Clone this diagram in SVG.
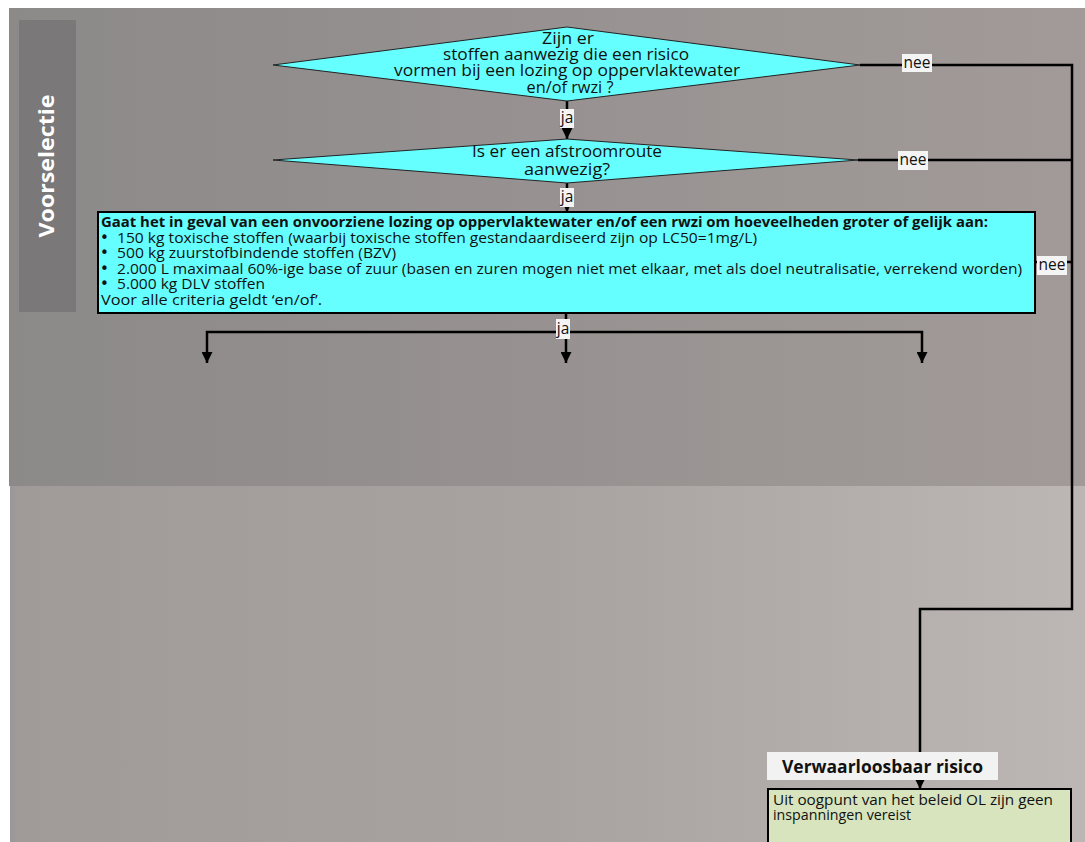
<svg xmlns="http://www.w3.org/2000/svg" width="1085" height="842" viewBox="0 0 1085 842">
<defs>
<linearGradient id="bgTop" x1="0" y1="0" x2="1" y2="0">
<stop offset="0" stop-color="#8c8989"/>
<stop offset="0.5" stop-color="#979291"/>
<stop offset="1" stop-color="#a19a99"/>
</linearGradient>
<linearGradient id="bgBot" x1="0" y1="0" x2="1" y2="0">
<stop offset="0" stop-color="#a09a99"/>
<stop offset="0.5" stop-color="#a8a2a1"/>
<stop offset="1" stop-color="#bcb7b4"/>
</linearGradient>
<marker id="arr" viewBox="0 0 10 10" refX="10" refY="5" markerWidth="4.4" markerHeight="4.4" orient="auto" markerUnits="strokeWidth">
<path d="M0,0 L10,5 L0,10 z" fill="#000"/>
</marker>
</defs>
<style>
.dia{fill:#66ffff;stroke:#222;stroke-width:1}
.t{font-family:"Open Sans","Liberation Sans",sans-serif;font-size:14.5px;fill:#111}
.dt{font-family:"Open Sans","Liberation Sans",sans-serif;font-size:16px;fill:#111;text-anchor:middle}
.b{font-weight:bold}
.bul{font-family:"DejaVu Sans",sans-serif;font-size:15px}
.con{fill:none;stroke:#000;stroke-width:2.5}
.lbl{fill:#f4f4f4}
.lt{font-family:"Open Sans","Liberation Sans",sans-serif;font-size:15.5px;fill:#111;text-anchor:middle}
</style>
<rect x="0" y="0" width="1085" height="842" fill="#ffffff"/>
<rect x="9" y="8" width="1076" height="478" fill="url(#bgTop)"/>
<rect x="10" y="486" width="1075" height="356" fill="url(#bgBot)"/>
<rect x="10" y="486" width="5" height="356" fill="#9a9898"/>

<g id="lane">
<rect x="19" y="20" width="57" height="292" fill="#7a7878"/>
<text transform="translate(54,166) rotate(-90)" text-anchor="middle" font-family="Open Sans, Liberation Sans, sans-serif" font-size="22" font-weight="bold" fill="#ffffff" textLength="143" lengthAdjust="spacingAndGlyphs">Voorselectie</text>
</g>

<g id="connectors">
<line class="con" x1="567" y1="101" x2="567" y2="139" marker-end="url(#arr)"/>
<line class="con" x1="567" y1="183" x2="567" y2="212" marker-end="url(#arr)"/>
<line class="con" x1="566" y1="313" x2="566" y2="363" marker-end="url(#arr)"/>
<polyline class="con" points="566,332 207,332 207,363" marker-end="url(#arr)"/>
<polyline class="con" points="566,332 922,332 922,363" marker-end="url(#arr)"/>
<polyline class="con" points="860,65 1072,65 1072,609 920,609 920,789" marker-end="url(#arr)"/>
<line class="con" x1="858" y1="160" x2="1072" y2="160"/>
<line class="con" x1="1035" y1="262" x2="1072" y2="262"/>
<rect class="lbl" x="560" y="109" width="14" height="19"/>
<text class="lt" x="567" y="123">ja</text>
<rect class="lbl" x="560" y="188" width="14" height="19"/>
<text class="lt" x="567" y="202">ja</text>
<rect class="lbl" x="556" y="319" width="14" height="20"/>
<text class="lt" x="563" y="334">ja</text>
<rect class="lbl" x="902" y="54" width="30" height="18"/>
<text class="lt" x="917" y="68">nee</text>
<rect class="lbl" x="898" y="151" width="30" height="19"/>
<text class="lt" x="913" y="165">nee</text>
<rect class="lbl" x="1037" y="256" width="30" height="19"/>
<text class="lt" x="1052" y="270">nee</text>
</g>

<g id="q1">
<polygon class="dia" points="567,27 860,65 567,101 273,65"/>
<text class="dt" x="568" y="44" textLength="52" lengthAdjust="spacingAndGlyphs">Zijn er</text>
<text class="dt" x="566" y="60" textLength="246" lengthAdjust="spacingAndGlyphs">stoffen aanwezig die een risico</text>
<text class="dt" x="567" y="76" textLength="346" lengthAdjust="spacingAndGlyphs">vormen bij een lozing op oppervlaktewater</text>
<text class="dt" x="570" y="93" textLength="87" lengthAdjust="spacingAndGlyphs">en/of rwzi ?</text>
</g>

<g id="q2">
<polygon class="dia" points="567,139 858,160 567,183 273,160"/>
<text class="dt" x="567" y="157" textLength="190" lengthAdjust="spacingAndGlyphs">Is er een afstroomroute</text>
<text class="dt" x="567" y="175" textLength="86" lengthAdjust="spacingAndGlyphs">aanwezig?</text>
</g>

<g id="q3">
<rect x="98" y="212" width="937" height="101" fill="#66ffff" stroke="#000" stroke-width="2"/>
<text class="t b" x="101" y="227" textLength="887" lengthAdjust="spacingAndGlyphs">Gaat het in geval van een onvoorziene lozing op oppervlaktewater en/of een rwzi om hoeveelheden groter of gelijk aan:</text>
<text class="t"><tspan class="bul" x="100" y="243">•</tspan><tspan x="117" y="243" textLength="640" lengthAdjust="spacingAndGlyphs">150 kg toxische stoffen (waarbij toxische stoffen gestandaardiseerd zijn op LC50=1mg/L)</tspan></text>
<text class="t"><tspan class="bul" x="100" y="258">•</tspan><tspan x="117" y="258" textLength="279" lengthAdjust="spacingAndGlyphs">500 kg zuurstofbindende stoffen (BZV)</tspan></text>
<text class="t"><tspan class="bul" x="100" y="274">•</tspan><tspan x="117" y="274" textLength="905" lengthAdjust="spacingAndGlyphs">2.000 L maximaal 60%-ige base of zuur (basen en zuren mogen niet met elkaar, met als doel neutralisatie, verrekend worden)</tspan></text>
<text class="t"><tspan class="bul" x="100" y="289">•</tspan><tspan x="117" y="289" textLength="148" lengthAdjust="spacingAndGlyphs">5.000 kg DLV stoffen</tspan></text>
<text class="t" x="101" y="305" textLength="221" lengthAdjust="spacingAndGlyphs">Voor alle criteria geldt ‘en/of’.</text>
</g>

<g id="verwaarloosbaar">
<rect x="767" y="752" width="231" height="28" fill="#f2f2f2"/>
<text x="782" y="773" font-family="Open Sans, Liberation Sans, sans-serif" font-size="17" font-weight="bold" fill="#111" textLength="201" lengthAdjust="spacingAndGlyphs">Verwaarloosbaar risico</text>
<rect x="768" y="789" width="303" height="60" fill="#d7e4bd" stroke="#000" stroke-width="2"/>
<text class="t" x="773" y="805" font-size="15px" textLength="280" lengthAdjust="spacingAndGlyphs">Uit oogpunt van het beleid OL zijn geen</text>
<text class="t" x="773" y="820" font-size="15px" textLength="138" lengthAdjust="spacingAndGlyphs">inspanningen vereist</text>
</g>
</svg>
